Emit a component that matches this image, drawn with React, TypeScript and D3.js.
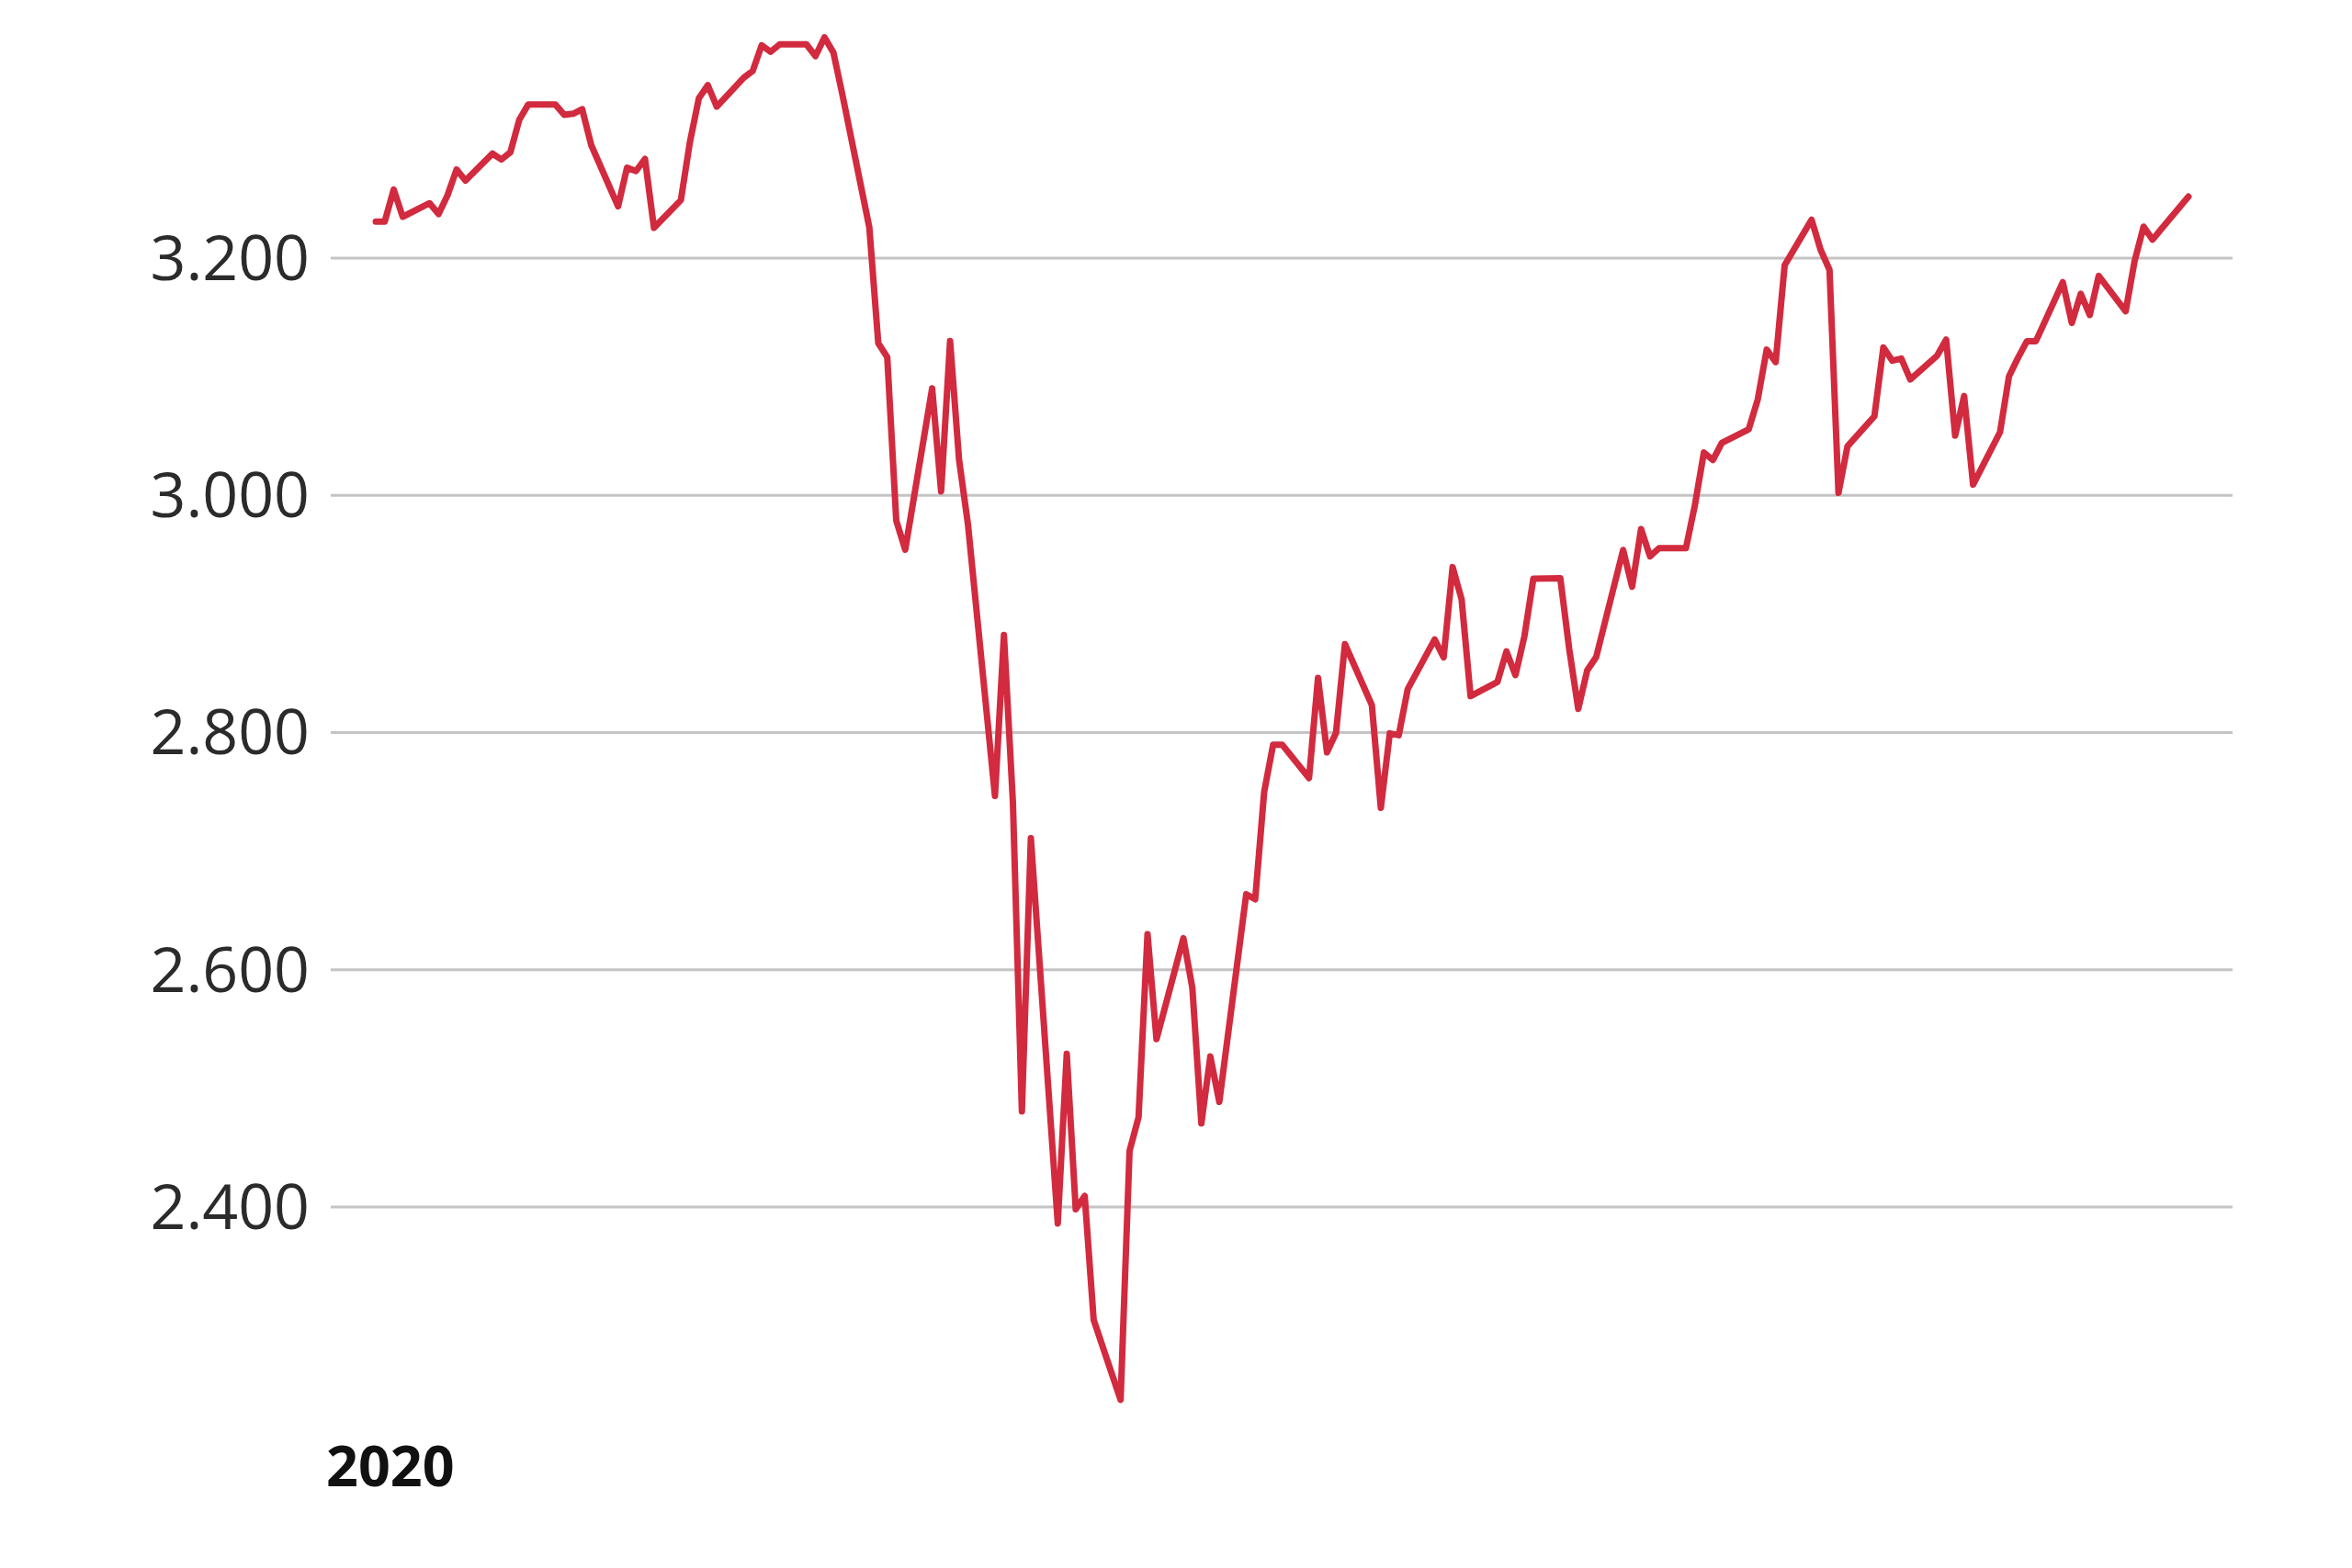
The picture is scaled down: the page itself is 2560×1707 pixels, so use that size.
import React from "react";
import * as d3 from "d3";

// S&P-style daily index closes (weekdays; market holidays repeat the prior close)
const dates: string[] = [
  "2019-12-31","2020-01-01","2020-01-02","2020-01-03","2020-01-06","2020-01-07","2020-01-08","2020-01-09","2020-01-10",
  "2020-01-13","2020-01-14","2020-01-15","2020-01-16","2020-01-17","2020-01-20","2020-01-21","2020-01-22","2020-01-23","2020-01-24",
  "2020-01-27","2020-01-28","2020-01-29","2020-01-30","2020-01-31","2020-02-03","2020-02-04","2020-02-05","2020-02-06","2020-02-07",
  "2020-02-10","2020-02-11","2020-02-12","2020-02-13","2020-02-14","2020-02-17","2020-02-18","2020-02-19","2020-02-20","2020-02-21",
  "2020-02-24","2020-02-25","2020-02-26","2020-02-27","2020-02-28","2020-03-02","2020-03-03","2020-03-04","2020-03-05","2020-03-06",
  "2020-03-09","2020-03-10","2020-03-11","2020-03-12","2020-03-13","2020-03-16","2020-03-17","2020-03-18","2020-03-19","2020-03-20",
  "2020-03-23","2020-03-24","2020-03-25","2020-03-26","2020-03-27","2020-03-30","2020-03-31","2020-04-01","2020-04-02","2020-04-03",
  "2020-04-06","2020-04-07","2020-04-08","2020-04-09","2020-04-10","2020-04-13","2020-04-14","2020-04-15","2020-04-16","2020-04-17",
  "2020-04-20","2020-04-21","2020-04-22","2020-04-23","2020-04-24","2020-04-27","2020-04-28","2020-04-29","2020-04-30","2020-05-01",
  "2020-05-04","2020-05-05","2020-05-06","2020-05-07","2020-05-08","2020-05-11","2020-05-12","2020-05-13","2020-05-14","2020-05-15",
  "2020-05-18","2020-05-19","2020-05-20","2020-05-21","2020-05-22","2020-05-25","2020-05-26","2020-05-27","2020-05-28","2020-05-29",
  "2020-06-01","2020-06-02","2020-06-03","2020-06-04","2020-06-05","2020-06-08","2020-06-09","2020-06-10","2020-06-11","2020-06-12",
  "2020-06-15","2020-06-16","2020-06-17","2020-06-18","2020-06-19","2020-06-22","2020-06-23","2020-06-24","2020-06-25","2020-06-26",
  "2020-06-29","2020-06-30","2020-07-01","2020-07-02","2020-07-03","2020-07-06","2020-07-07","2020-07-08","2020-07-09","2020-07-10",
  "2020-07-13","2020-07-14","2020-07-15","2020-07-16","2020-07-17","2020-07-20"
];

const values: number[] = [
  3230.78,3230.78,3257.85,3234.85,3246.28,3237.18,3253.05,3274.70,3265.35,
  3288.13,3283.15,3289.29,3316.81,3329.62,3329.62,3320.79,3321.75,3325.54,3295.47,
  3243.63,3276.24,3273.40,3283.66,3225.52,3248.92,3297.59,3334.69,3345.78,3327.71,
  3352.09,3357.75,3379.45,3373.94,3380.16,3380.16,3370.29,3386.15,3373.23,3337.75,
  3225.89,3128.21,3116.39,2978.76,2954.22,3090.23,3003.37,3130.12,3030.00,2975.00,
  2746.56,2882.23,2741.38,2480.64,2711.02,2386.13,2529.19,2398.10,2409.39,2304.92,
  2237.40,2447.33,2475.56,2630.07,2541.47,2626.65,2584.59,2470.50,2526.90,2488.65,
  2663.68,2659.41,2749.98,2789.82,2789.82,2761.63,2846.06,2783.36,2799.55,2874.56,
  2823.16,2736.56,2799.31,2797.80,2836.74,2878.48,2863.39,2939.51,2912.43,2830.71,
  2842.74,2868.44,2848.42,2881.19,2929.80,2930.19,2870.12,2820.00,2852.50,2863.70,
  2953.91,2922.94,2971.61,2948.51,2955.45,2955.45,2991.77,3036.13,3029.73,3044.31,
  3055.73,3080.82,3122.87,3112.35,3193.93,3232.39,3207.18,3190.14,3002.10,3041.31,
  3066.59,3124.74,3113.49,3115.34,3097.74,3117.86,3131.29,3050.33,3083.76,3009.05,
  3053.24,3100.29,3115.86,3130.01,3130.01,3179.72,3145.32,3169.94,3152.05,3185.04,
  3155.22,3197.52,3226.56,3215.57,3224.73,3251.84
];

const yTicks: number[] = [2400, 2600, 2800, 3000, 3200];
const yearLabel = "2020";
const yearDate = "2020-01-01";

const W = 2560;
const H = 1707;

export default function App() {
  const parse = d3.utcParse("%Y-%m-%d");
  const data = dates.map((d, i) => ({ date: parse(d) as Date, value: values[i] }));

  const x = d3
    .scaleUtc()
    .domain([data[0].date, data[data.length - 1].date])
    .range([409, 2382]);

  const y = d3.scaleLinear().domain([2400, 3200]).range([1314, 281]);

  const fmt = d3
    .formatLocale({ decimal: ",", thousands: ".", grouping: [3], currency: ["", " €"] })
    .format(",");

  const line = d3
    .line<{ date: Date; value: number }>()
    .x((d) => x(d.date))
    .y((d) => y(d.value));

  const gridX0 = 360;
  const gridX1 = 2430;

  return (
    <svg
      width={W}
      height={H}
      viewBox={`0 0 ${W} ${H}`}
      style={{ position: "absolute", left: 0, top: 0, background: "#ffffff" }}
    >
      <rect x={0} y={0} width={W} height={H} fill="#ffffff" />
      <g>
        {yTicks.map((t) => (
          <g key={t}>
            <line
              x1={gridX0}
              x2={gridX1}
              y1={y(t)}
              y2={y(t)}
              stroke="#c4c4c4"
              strokeWidth={3}
            />
            <text
              x={337}
              y={y(t)}
              dy="0.35em"
              textAnchor="end"
              fontFamily="'Open Sans', 'Noto Sans', sans-serif"
              fontSize={68}
              fill="#2b2b2b"
            >
              {fmt(t)}
            </text>
          </g>
        ))}
      </g>
      <path
        d={line(data) || ""}
        fill="none"
        stroke="#d22a3e"
        strokeWidth={7}
        strokeLinejoin="round"
        strokeLinecap="round"
      />
      <text
        x={x(parse(yearDate) as Date) + 6}
        y={1618}
        textAnchor="middle"
        fontFamily="'Open Sans', 'Noto Sans', sans-serif"
        fontWeight={700}
        fontSize={61}
        fill="#111111"
      >
        {yearLabel}
      </text>
    </svg>
  );
}
